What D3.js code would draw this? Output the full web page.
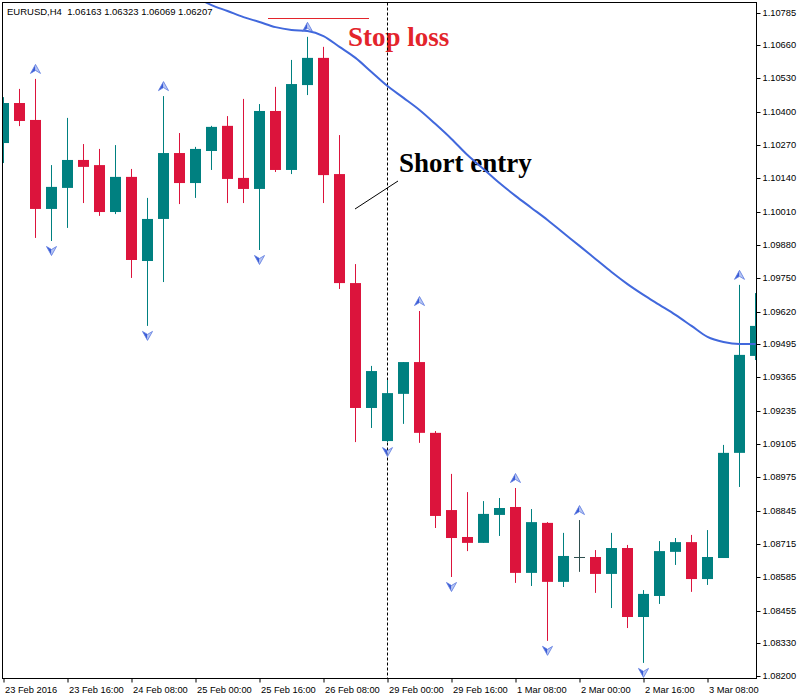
<!DOCTYPE html>
<html><head><meta charset="utf-8">
<script src="https://cdn.jsdelivr.net/npm/d3@7/dist/d3.min.js"></script>
<style>body{margin:0;background:#fff}svg{display:block}</style>
</head><body><svg id="c" width="800" height="700"></svg>
<script>
// ---- DATA ----
const days  = ["23 Feb","24 Feb","25 Feb","26 Feb","29 Feb","1 Mar","2 Mar","3 Mar"];
const hours = ["00:00","04:00","08:00","12:00","16:00","20:00"];
const times = days.flatMap(d => hours.map(h => d + " " + h));

const open  = [1.10278,1.10434,1.10368,1.10021,1.10103,1.10212,1.10192,1.10009,1.10146,1.09818,1.09982,1.10239,
               1.10122,1.10247,1.10345,1.10142,1.10099,1.10403,1.10173,1.10504,1.10610,1.10157,1.09732,1.09245,
               1.09116,1.09300,1.09424,1.09148,1.08847,1.08742,1.08719,1.08828,1.08859,1.08602,1.08797,1.08567,
               1.08664,1.08664,1.08598,1.08699,1.08430,1.08512,1.08684,1.08722,1.08578,1.08660,1.09070,1.09448];
const high  = [1.10457,1.10489,1.10528,1.10192,1.10376,1.10274,1.10255,1.10270,1.10177,1.10064,1.10461,1.10317,
               1.10263,1.10345,1.10383,1.10450,1.10430,1.10497,1.10602,1.10692,1.10653,1.10309,1.09806,1.09409,
               1.09354,1.09424,1.09623,1.09155,1.08988,1.08917,1.08882,1.08894,1.08933,1.08851,1.08800,1.08758,
               1.08808,1.08691,1.08758,1.08711,1.08535,1.08726,1.08738,1.08750,1.08769,1.09101,1.09725,1.09693];
const low   = [1.10200,1.10344,1.09908,1.09896,1.09947,1.10044,1.09994,1.10001,1.09752,1.09565,1.09736,1.10040,
               1.10064,1.10173,1.10044,1.10044,1.09861,1.10165,1.10157,1.10465,1.10044,1.09709,1.09112,1.09167,
               1.09112,1.09183,1.09109,1.08777,1.08586,1.08687,1.08719,1.08746,1.08563,1.08551,1.08337,1.08547,
               1.08606,1.08524,1.08465,1.08387,1.08251,1.08481,1.08633,1.08528,1.08555,1.08660,1.08937,1.09432];
const close = [1.10434,1.10364,1.10021,1.10107,1.10212,1.10185,1.10009,1.10146,1.09822,1.09982,1.10239,1.10122,
               1.10255,1.10341,1.10138,1.10099,1.10403,1.10173,1.10508,1.10610,1.10153,1.09732,1.09245,1.09389,
               1.09303,1.09424,1.09148,1.08824,1.08738,1.08719,1.08832,1.08855,1.08602,1.08800,1.08567,1.08668,
               1.08664,1.08598,1.08699,1.08430,1.08520,1.08687,1.08722,1.08578,1.08664,1.09070,1.09452,1.09565];
const movingAvg = [null,null,null,null,null,null,null,null,null,null,null,1.10875,
               1.10847,1.10816,1.10793,1.10769,1.10750,1.10730,1.10719,1.10715,1.10695,1.10653,1.10610,1.10555,
               1.10500,1.10454,1.10407,1.10352,1.10294,1.10231,1.10177,1.10122,1.10072,1.10025,1.09978,1.09927,
               1.09877,1.09826,1.09775,1.09728,1.09686,1.09647,1.09608,1.09565,1.09522,1.09502,1.09494,1.09494];
const upFractals   = [2,10,19,26,32,36,46];
const downFractals = [3,9,16,24,28,34,40];

const yTickLabels = ["1.10785","1.10660","1.10530","1.10400","1.10270","1.10140","1.10010","1.09880","1.09750","1.09620",
                     "1.09495","1.09365","1.09235","1.09105","1.08975","1.08845","1.08715","1.08585","1.08455","1.08330","1.08200"];
const xTickLabels = ["23 Feb 2016","23 Feb 16:00","24 Feb 08:00","25 Feb 00:00","25 Feb 16:00","26 Feb 08:00",
                     "29 Feb 00:00","29 Feb 16:00","1 Mar 08:00","2 Mar 00:00","2 Mar 16:00","3 Mar 08:00"];
const headerText = "EURUSD,H4  1.06163 1.06323 1.06069 1.06207";
const entryTime = "29 Feb 00:00";
const stopLossPrice = 1.10767;
const stopLossSpan = ["25 Feb 16:00","26 Feb 20:00"];

// ---- CHART ----
const svg = d3.select("#c");
const L = 2.5, T = 2.5, R = 756.5, B = 678.5;
const font = "'Liberation Sans', Arial, sans-serif";

svg.append("rect").attr("width",800).attr("height",700).attr("fill","#fff");

const x = d3.scalePoint().domain(times).range([3, 755]);
const y = d3.scaleLinear().domain([1.08200, 1.10785]).range([676, 13]);
const px = t => x(t) + 0.5;

svg.append("defs").append("clipPath").attr("id","clip")
  .append("rect").attr("x",L).attr("y",T).attr("width",R-L).attr("height",B-T);

// annotations (background layer)
const slY = Math.round(y(stopLossPrice)) + 0.5;
svg.append("line").attr("x1",x(stopLossSpan[0])+9).attr("x2",x(stopLossSpan[1])-2)
  .attr("y1",slY).attr("y2",slY)
  .attr("stroke","#e3242b").attr("stroke-width",1);
svg.append("text").attr("x",348).attr("y",46).text("Stop loss")
  .attr("font-family","'Liberation Serif','Times New Roman',serif").attr("font-weight","bold")
  .attr("font-size",27).attr("fill","#e3242b");
svg.append("text").attr("x",399).attr("y",172).text("Short entry")
  .attr("font-family","'Liberation Serif','Times New Roman',serif").attr("font-weight","bold")
  .attr("font-size",27).attr("fill","#000");
svg.append("line").attr("x1",355).attr("y1",209).attr("x2",398).attr("y2",181)
  .attr("stroke","#000").attr("stroke-width",1);

const plot = svg.append("g").attr("clip-path","url(#clip)");

// dashed entry line
plot.append("line").attr("x1",px(entryTime)).attr("x2",px(entryTime))
  .attr("y1",T).attr("y2",B).attr("stroke","#000").attr("stroke-width",1).attr("stroke-dasharray","3,2");

const bars = times.map((t,i)=>({t, o:open[i], h:high[i], l:low[i], c:close[i]}));
const colOf = d => d.c > d.o ? "#008080" : (d.c < d.o ? "#DC143C" : "#2F4F4F");

// wicks
plot.selectAll("line.wick").data(bars).enter().append("line").attr("class","wick")
  .attr("x1",d=>px(d.t)).attr("x2",d=>px(d.t))
  .attr("y1",d=>y(d.h)).attr("y2",d=>y(d.l))
  .attr("stroke",colOf).attr("stroke-width",1);

// bodies
plot.selectAll("rect.body").data(bars).enter().append("rect").attr("class","body")
  .attr("x",d=>x(d.t)-5).attr("width",11)
  .attr("y",d=>Math.min(y(d.o),y(d.c)))
  .attr("height",d=>Math.max(1, Math.abs(y(d.o)-y(d.c))))
  .attr("fill",colOf);

// moving average
const maData = times.map((t,i)=>({t, v:movingAvg[i]})).filter(d=>d.v!==null);
plot.append("path").datum(maData)
  .attr("d", d3.line().x(d=>px(d.t)).y(d=>y(d.v)).curve(d3.curveMonotoneX))
  .attr("fill","none").attr("stroke","#4168dc").attr("stroke-width",2);

// fractal arrows
function arrow(g, cx, cy, up){
  const s = up ? 1 : -1;
  g.append("path").attr("d",`M${cx},${cy-5*s} L${cx-5},${cy+4*s} L${cx},${cy+1*s} Z`).attr("fill","#3a5bd6");
  g.append("path").attr("d",`M${cx},${cy-5*s} L${cx+5},${cy+4*s} L${cx},${cy+1*s} Z`).attr("fill","#b9c7f3");
  g.append("path").attr("d",`M${cx},${cy-5*s} L${cx+5},${cy+4*s} L${cx},${cy+1*s} L${cx-5},${cy+4*s} Z`)
    .attr("fill","none").attr("stroke","#5a78e0").attr("stroke-width",0.8);
}
const ag = plot.append("g");
upFractals.forEach(i=> arrow(ag, x(times[i])+0.5, y(high[i])-9.5, true));
downFractals.forEach(i=> arrow(ag, x(times[i])+0.5, y(low[i])+9.5, false));

// frame
svg.append("rect").attr("x",L).attr("y",T).attr("width",R-L).attr("height",B-T)
  .attr("fill","none").attr("stroke","#000").attr("stroke-width",1);

// header
svg.append("text").attr("x",7).attr("y",15).text(headerText)
  .attr("font-family",font).attr("font-size",9.5).attr("fill","#000").style("white-space","pre")
  .attr("xml:space","preserve");

// y axis
const yAxis = d3.axisRight(y).tickValues(yTickLabels.map(Number)).tickFormat((d,i)=>yTickLabels[i])
  .tickSize(4).tickPadding(2);
const gy = svg.append("g").attr("transform",`translate(${R},0)`).call(yAxis);
gy.select(".domain").remove();
gy.selectAll(".tick").attr("transform", d=>`translate(0,${Math.round(y(d))+0.5})`);
gy.selectAll("text").attr("font-family",font).attr("font-size",9.3).attr("fill","#000");
gy.selectAll("line").attr("stroke","#000");

// x axis
const xTicks = times.filter((t,i)=> i%4===0);
const xAxis = d3.axisBottom(x).tickValues(xTicks).tickFormat((d,i)=>xTickLabels[i]).tickSize(4).tickPadding(2);
const gx = svg.append("g").attr("transform",`translate(0.5,${B})`).call(xAxis);
gx.select(".domain").remove();
gx.selectAll("text").attr("font-family",font).attr("font-size",9.3).attr("fill","#000")
  .attr("text-anchor","start").attr("x",1).attr("dy","0.9em");
gx.selectAll("line").attr("stroke","#000");
</script>
</body></html>
